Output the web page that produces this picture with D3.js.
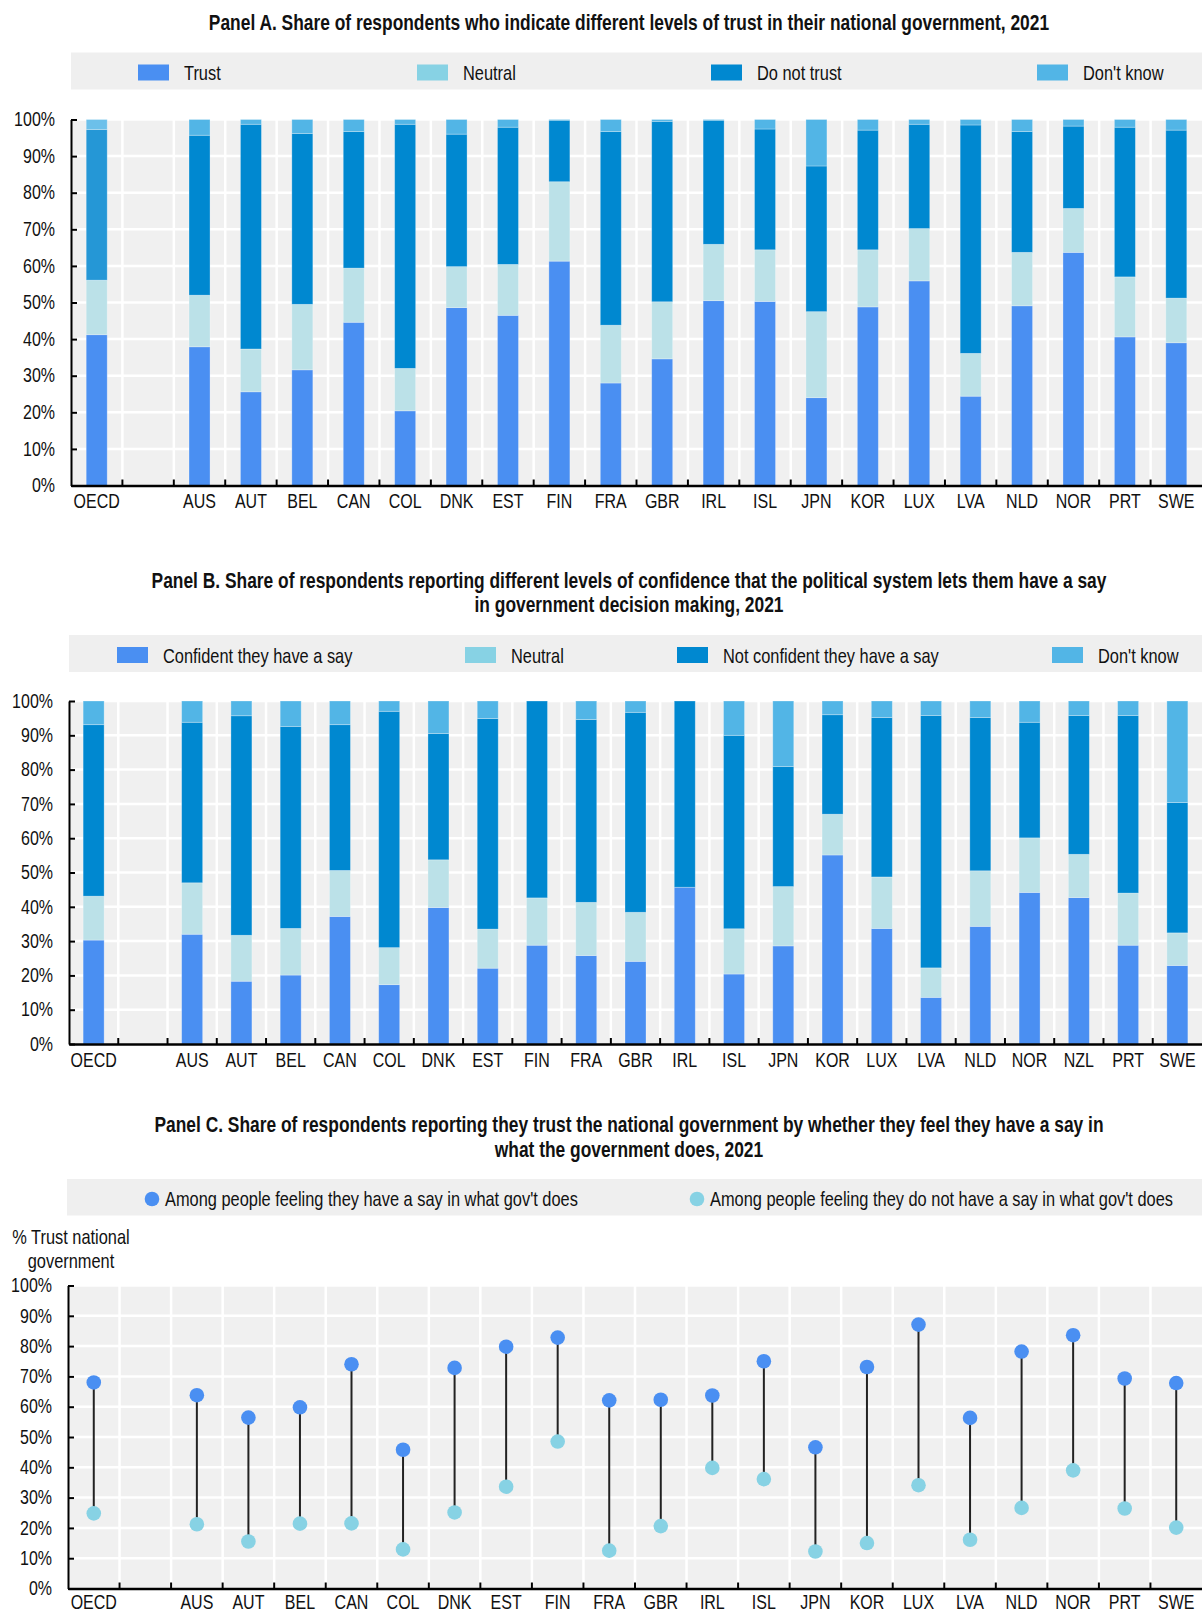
<!DOCTYPE html>
<html>
<head>
<meta charset="utf-8">
<script src="https://cdn.jsdelivr.net/npm/d3@7/dist/d3.min.js"></script>
<style>
  html, body { margin: 0; padding: 0; background: #fff; }
  svg { display: block; }
  text { font-family: "Liberation Sans", Arial, sans-serif; fill: #111; }
</style>
</head>
<body>
<script>
// ---- Data -------------------------------------------------------------
// Panel A: trust in national government (shares, %)
const categoriesA = ["OECD", "", "AUS", "AUT", "BEL", "CAN", "COL", "DNK", "EST", "FIN", "FRA",
  "GBR", "IRL", "ISL", "JPN", "KOR", "LUX", "LVA", "NLD", "NOR", "PRT", "SWE"];
const trustA    = [41.2, null, 37.9, 25.6, 31.6, 44.6, 20.4, 48.6, 46.5, 61.3, 28.0, 34.6, 50.5, 50.3, 24.0, 48.8, 55.9, 24.4, 49.1, 63.7, 40.6, 39.0];
const neutralA  = [14.9, null, 14.1, 11.7, 17.9, 14.8, 11.6, 11.2, 13.9, 21.7, 15.8, 15.6, 15.4, 14.1, 23.5, 15.6, 14.3, 11.7, 14.6, 12.0, 16.4, 12.2];
const distrustA = [41.2, null, 43.7, 61.4, 46.7, 37.3, 66.7, 36.2, 37.5, 16.8, 52.9, 49.3, 33.9, 33.0, 39.8, 32.7, 28.5, 62.4, 33.0, 22.5, 40.9, 45.9];
const dkA       = [2.7, null, 4.3, 1.3, 3.8, 3.3, 1.3, 4.0, 2.1, 0.2, 3.3, 0.5, 0.2, 2.6, 12.7, 2.9, 1.3, 1.5, 3.3, 1.8, 2.1, 2.9];
const legendA   = ["Trust", "Neutral", "Do not trust", "Don't know"];

// Panel B: confidence of having a say in government decision making (shares, %)
const categoriesB = ["OECD", "", "AUS", "AUT", "BEL", "CAN", "COL", "DNK", "EST", "FIN", "FRA",
  "GBR", "IRL", "ISL", "JPN", "KOR", "LUX", "LVA", "NLD", "NOR", "NZL", "PRT", "SWE"];
const confidentB    = [30.3, null, 32.0, 18.3, 20.1, 37.2, 17.3, 39.8, 22.1, 28.8, 25.8, 24.1, 45.7, 20.4, 28.6, 55.1, 33.7, 13.6, 34.3, 44.2, 42.7, 28.8, 22.9];
const neutralB      = [12.8, null, 15.0, 13.4, 13.6, 13.4, 10.8, 13.9, 11.4, 13.8, 15.5, 14.3, 0.0, 13.2, 17.3, 11.9, 15.0, 8.6, 16.2, 15.9, 12.6, 15.2, 9.5];
const notConfidentB = [50.0, null, 46.8, 64.0, 58.9, 42.5, 68.9, 36.8, 61.4, 57.4, 53.3, 58.3, 54.3, 56.4, 35.0, 29.0, 46.5, 73.6, 44.7, 33.7, 40.5, 51.8, 38.0];
const dkB           = [6.9, null, 6.2, 4.3, 7.4, 6.9, 3.0, 9.5, 5.1, 0.0, 5.4, 3.3, 0.0, 10.0, 19.1, 4.0, 4.8, 4.2, 4.8, 6.2, 4.2, 4.2, 29.6];
const legendB       = ["Confident they have a say", "Neutral", "Not confident they have a say", "Don't know"];

// Panel C: trust in national government by perceived say (% trusting)
const categoriesC = categoriesA;
const trustWithSay    = [68.0, null, 63.8, 56.4, 59.8, 74.0, 45.8, 72.8, 79.8, 82.8, 62.1, 62.3, 63.7, 75.0, 46.6, 73.1, 87.1, 56.3, 78.2, 83.6, 69.3, 67.8];
const trustWithoutSay = [24.8, null, 21.2, 15.5, 21.4, 21.5, 12.9, 25.1, 33.6, 48.5, 12.5, 20.6, 39.8, 36.1, 12.2, 15.0, 34.1, 16.1, 26.6, 39.0, 26.4, 20.1];
const legendC = ["Among people feeling they have a say in what gov't does",
                 "Among people feeling they do not have a say in what gov't does"];

const yTicks = [0, 10, 20, 30, 40, 50, 60, 70, 80, 90, 100];

// ---- Style ------------------------------------------------------------
const W = 1202, H = 1614;
const FS = 19.5;          // axis label size
const FS_KEY = 20;        // legend label size
const FS_TITLE = 21.2;    // panel title size
const NARROW = 0.82;      // horizontal squeeze giving a narrow face
const colors = {
  dark: "#4a8ff2",
  neutralKey: "#87d2e4",
  neutralBar: "#bbe1e8",
  against: "#0088d0",
  dk: "#52b5e6"
};
const barFill = [colors.dark, colors.neutralBar, colors.against, colors.dk];
const keyFill = [colors.dark, colors.neutralKey, colors.against, colors.dk];
// OECD average shown in a softer tone in panel A
const oecdFillA = [colors.dark, colors.neutralBar, "#2597d6", "#6cc0ea"];

const svg = d3.select("body").append("svg").attr("width", W).attr("height", H);

// Squeeze text horizontally around its own anchor point
function narrow(sel) {
  sel.each(function () {
    const t = d3.select(this);
    const x = +(t.attr("x") || 0);
    const prev = t.attr("transform") || "";
    t.attr("x", x / NARROW).attr("transform", (prev + ` scale(${NARROW},1)`).trim());
  });
}

// ---- Helpers ----------------------------------------------------------
function title(lines, y0, lh) {
  svg.append("g").selectAll("text").data(lines).join("text")
    .attr("x", 629).attr("y", (d, i) => y0 + i * lh)
    .attr("text-anchor", "middle")
    .style("font-size", FS_TITLE + "px").style("font-weight", "bold")
    .text(d => d)
    .call(narrow);
}

function frame(cfg) {
  const { cats, x0, x1, yTop, yBot } = cfg;
  const x = d3.scaleBand().domain(d3.range(cats.length)).range([x0, x1]);
  const y = d3.scaleLinear().domain([0, 100]).range([yBot, yTop]);
  const g = svg.append("g");
  g.append("rect").attr("x", x0).attr("y", yTop).attr("width", x1 - x0).attr("height", yBot - yTop).attr("fill", "#f0f0f0");
  g.append("g").selectAll("line").data(yTicks.filter(t => t > 0)).join("line")
    .attr("x1", x0).attr("x2", x1).attr("y1", d => y(d)).attr("y2", d => y(d))
    .attr("stroke", "#fff").attr("stroke-width", 2.5);
  g.append("g").selectAll("line").data(d3.range(1, cats.length)).join("line")
    .attr("x1", i => x(i)).attr("x2", i => x(i)).attr("y1", yTop).attr("y2", yBot)
    .attr("stroke", "#fff").attr("stroke-width", 2.5);
  return { x, y, g };
}

function axes(cfg, x, y) {
  const { cats, x0, yBot } = cfg;
  const ya = svg.append("g").attr("transform", `translate(${x0},0)`)
    .call(d3.axisLeft(y).tickValues(yTicks).tickFormat(d => d + "%").tickSize(-6).tickSizeOuter(0).tickPadding(16));
  ya.select(".domain").attr("stroke", "#000").attr("stroke-width", 2);
  ya.selectAll(".tick line").attr("stroke", "#000").attr("stroke-width", 2);
  ya.selectAll("text").style("font-size", FS + "px").attr("fill", "#111").attr("font-family", null).call(narrow);

  const xa = svg.append("g").attr("transform", `translate(0,${yBot})`)
    .call(d3.axisBottom(x).tickFormat(i => cats[i]).tickSize(0).tickSizeOuter(0).tickPadding(cfg.labelPad || 9));
  xa.select(".domain").attr("stroke", "#000").attr("stroke-width", 2.5);
  xa.selectAll("text").style("font-size", FS + "px").attr("fill", "#111").attr("font-family", null).call(narrow);
  // boundary ticks pointing into the plot
  xa.append("g").selectAll("line").data(d3.range(1, cats.length)).join("line")
    .attr("x1", i => x(i)).attr("x2", i => x(i)).attr("y1", 0).attr("y2", -6)
    .attr("stroke", "#000").attr("stroke-width", 2);
}

function legendSquares(labels, fills, x0, yTopBox, yBotBox, sx) {
  const g = svg.append("g");
  g.append("rect").attr("x", x0).attr("y", yTopBox).attr("width", W - x0).attr("height", yBotBox - yTopBox).attr("fill", "#efefef");
  const cy = (yTopBox + yBotBox) / 2 + 1.5;
  labels.forEach((lab, i) => {
    g.append("rect").attr("x", sx[i]).attr("y", cy - 8).attr("width", 31).attr("height", 16).attr("fill", fills[i]);
    g.append("text").attr("x", sx[i] + 46).attr("y", cy).attr("dy", "0.4em")
      .style("font-size", FS_KEY + "px").text(lab).call(narrow);
  });
}

function stackedPanel(cfg, series) {
  const { x, y } = frame(cfg);
  const rows = cfg.cats.map((c, i) => ({ i, a: series[0][i], b: series[1][i], c: series[2][i], d: series[3][i] }))
    .filter(r => r.a !== null);
  const stack = d3.stack().keys(["a", "b", "c", "d"])(rows);
  const bw = 21;
  svg.append("g").selectAll("g").data(stack).join("g")
    .selectAll("rect").data((s, k) => s.map(p => ({ p, k }))).join("rect")
    .attr("x", d => x(d.p.data.i) + (x.bandwidth() - bw) / 2)
    .attr("width", bw)
    .attr("y", d => y(d.p[1]))
    .attr("height", d => Math.max(0, y(d.p[0]) - y(d.p[1])))
    .attr("fill", d => (cfg.oecdFill && d.p.data.i === 0 ? cfg.oecdFill : barFill)[d.k])
    .attr("stroke", "rgba(255,255,255,0.35)").attr("stroke-width", 0.8);
  axes(cfg, x, y);
}

// ---- Panel A ----------------------------------------------------------
title(["Panel A. Share of respondents who indicate different levels of trust in their national government, 2021"], 30.5, 24);
legendSquares(legendA, keyFill, 71, 52.5, 89.5, [138, 417, 711, 1037]);
stackedPanel({ cats: categoriesA, x0: 71, x1: W, yTop: 119.5, yBot: 485.5, oecdFill: oecdFillA },
  [trustA, neutralA, distrustA, dkA]);

// ---- Panel B ----------------------------------------------------------
title(["Panel B. Share of respondents reporting different levels of confidence that the political system lets them have a say",
       "in government decision making, 2021"], 588, 24.2);
legendSquares(legendB, keyFill, 69, 635, 672, [117, 465, 677, 1052]);
stackedPanel({ cats: categoriesB, x0: 69, x1: W, yTop: 701, yBot: 1044 },
  [confidentB, neutralB, notConfidentB, dkB]);

// ---- Panel C ----------------------------------------------------------
title(["Panel C. Share of respondents reporting they trust the national government by whether they feel they have a say in",
       "what the government does, 2021"], 1132.5, 24.2);
(function () {
  const g = svg.append("g");
  g.append("rect").attr("x", 67).attr("y", 1179).attr("width", W - 67).attr("height", 36.5).attr("fill", "#efefef");
  const cy = 1199;
  const cx = [152, 697];
  const fills = [colors.dark, colors.neutralKey];
  legendC.forEach((lab, i) => {
    g.append("circle").attr("cx", cx[i]).attr("cy", cy).attr("r", 7.3).attr("fill", fills[i]);
    g.append("text").attr("x", cx[i] + 13).attr("y", cy).attr("dy", "0.36em").style("font-size", FS_KEY + "px").text(lab).call(narrow);
  });
  g.append("g").selectAll("text").data(["% Trust national", "government"]).join("text")
    .attr("x", 71).attr("y", (d, i) => 1244 + i * 24).attr("text-anchor", "middle")
    .style("font-size", FS_KEY + "px").text(d => d).call(narrow);

  const cfg = { cats: categoriesC, x0: 68, x1: W, yTop: 1285.5, yBot: 1588.5, labelPad: 6.5 };
  const { x, y } = frame(cfg);
  const pts = categoriesC.map((c, i) => ({ i, hi: trustWithSay[i], lo: trustWithoutSay[i] })).filter(d => d.hi !== null);
  const cxOf = d => x(d.i) + x.bandwidth() / 2;
  const pg = svg.append("g");
  pg.selectAll("line").data(pts).join("line")
    .attr("x1", cxOf).attr("x2", cxOf).attr("y1", d => y(d.hi)).attr("y2", d => y(d.lo))
    .attr("stroke", "#222").attr("stroke-width", 2);
  pg.selectAll("circle.lo").data(pts).join("circle").attr("class", "lo")
    .attr("cx", cxOf).attr("cy", d => y(d.lo)).attr("r", 7.3).attr("fill", colors.neutralKey);
  pg.selectAll("circle.hi").data(pts).join("circle").attr("class", "hi")
    .attr("cx", cxOf).attr("cy", d => y(d.hi)).attr("r", 7.3).attr("fill", colors.dark);
  axes(cfg, x, y);
})();
</script>
</body>
</html>
